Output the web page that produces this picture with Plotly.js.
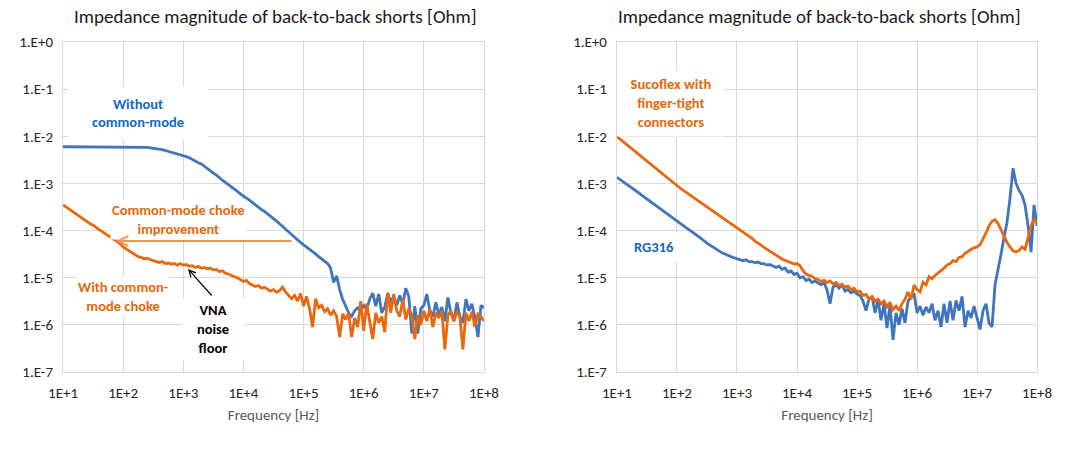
<!DOCTYPE html>
<html>
<head>
<meta charset="utf-8">
<script src="https://cdn.plot.ly/plotly-3.0.1.min.js"></script>
<style>
  html, body { margin: 0; padding: 0; background: #ffffff; }
  #chart { width: 1070px; height: 456px; }
</style>
</head>
<body>
<div id="chart"></div>
<script>
// Frequency grid [Hz] (shared by all four traces)
var freq = [
  1e1,1.122e1,1.259e1,1.413e1,1.585e1,1.778e1,1.995e1,2.239e1,2.512e1,2.818e1,3.162e1,3.548e1,3.981e1,4.467e1,5.012e1,5.623e1,6.31e1,7.079e1,7.943e1,8.913e1,
  1e2,1.122e2,1.259e2,1.413e2,1.585e2,1.778e2,1.995e2,2.239e2,2.512e2,2.818e2,3.162e2,3.548e2,3.981e2,4.467e2,5.012e2,5.623e2,6.31e2,7.079e2,7.943e2,8.913e2,
  1e3,1.122e3,1.259e3,1.413e3,1.585e3,1.778e3,1.995e3,2.239e3,2.512e3,2.818e3,3.162e3,3.548e3,3.981e3,4.467e3,5.012e3,5.623e3,6.31e3,7.079e3,7.943e3,8.913e3,
  1e4,1.122e4,1.259e4,1.413e4,1.585e4,1.778e4,1.995e4,2.239e4,2.512e4,2.818e4,3.162e4,3.548e4,3.981e4,4.467e4,5.012e4,5.623e4,6.31e4,7.079e4,7.943e4,8.913e4,
  1e5,1.122e5,1.259e5,1.413e5,1.585e5,1.778e5,1.995e5,2.239e5,2.512e5,2.818e5,3.162e5,3.548e5,3.981e5,4.467e5,5.012e5,5.623e5,6.31e5,7.079e5,7.943e5,8.913e5,
  1e6,1.122e6,1.259e6,1.413e6,1.585e6,1.778e6,1.995e6,2.239e6,2.512e6,2.818e6,3.162e6,3.548e6,3.981e6,4.467e6,5.012e6,5.623e6,6.31e6,7.079e6,7.943e6,8.913e6,
  1e7,1.122e7,1.259e7,1.413e7,1.585e7,1.778e7,1.995e7,2.239e7,2.512e7,2.818e7,3.162e7,3.548e7,3.981e7,4.467e7,5.012e7,5.623e7,6.31e7,7.079e7,7.943e7,8.913e7,
  1e8
];

// Left chart: without common-mode choke [Ohm]
var leftWithout = [
  6.0e-3,6.0e-3,6.0e-3,6.0e-3,6.0e-3,6.0e-3,6.0e-3,6.0e-3,6.0e-3,6.0e-3,
  6.0e-3,6.0e-3,6.0e-3,6.0e-3,6.0e-3,6.0e-3,6.0e-3,6.0e-3,6.0e-3,6.0e-3,
  6.0e-3,6.0e-3,6.0e-3,6.0e-3,6.0e-3,5.95e-3,5.9e-3,5.85e-3,5.8e-3,5.7e-3,
  5.6e-3,5.5e-3,5.35e-3,5.2e-3,5.0e-3,4.8e-3,4.6e-3,4.45e-3,4.3e-3,4.15e-3,
  4.0e-3,3.7e-3,3.5e-3,3.2e-3,2.95e-3,2.75e-3,2.6e-3,2.3e-3,2.05e-3,1.85e-3,
  1.65e-3,1.5e-3,1.3e-3,1.17e-3,1.05e-3,9.5e-4,8.5e-4,7.6e-4,6.8e-4,6.0e-4,
  5.5e-4,4.9e-4,4.4e-4,3.9e-4,3.5e-4,3.2e-4,2.8e-4,2.55e-4,2.3e-4,2.05e-4,
  1.8e-4,1.6e-4,1.4e-4,1.23e-4,1.07e-4,9.3e-5,8.1e-5,7.1e-5,6.2e-5,5.6e-5,
  5.0e-5,4.5e-5,4.0e-5,3.6e-5,3.2e-5,2.8e-5,2.5e-5,2.2e-5,2.0e-5,1.6e-5,
  7.9e-6,1.1e-5,5.6e-6,3.5e-6,2.5e-6,1.8e-6,1.5e-6,2.0e-6,2.3e-6,2.0e-6,
  2.6e-6,2.2e-6,3.5e-6,4.7e-6,2.5e-6,4.5e-6,1.8e-6,2.4e-6,4.7e-6,3.0e-6,
  4.0e-6,2.6e-6,4.2e-6,2.8e-6,6.0e-6,4.0e-6,6.5e-7,2.5e-6,6.5e-7,2.2e-6,
  2.6e-6,4.5e-6,2.0e-6,1.5e-6,3.0e-6,1.6e-6,2.4e-6,1.2e-6,3.8e-6,1.8e-6,
  1.2e-6,3.0e-6,1.5e-6,1.1e-6,3.5e-6,2.0e-6,2.8e-6,1.4e-6,5.5e-7,2.6e-6,
  2.3e-6
];

// Left chart: with common-mode choke [Ohm]
var leftWith = [
  3.5e-4,3.15e-4,2.85e-4,2.55e-4,2.3e-4,2.05e-4,1.85e-4,1.7e-4,1.55e-4,1.4e-4,
  1.3e-4,1.15e-4,1.05e-4,9.5e-5,8.6e-5,7.7e-5,6.9e-5,6.3e-5,5.8e-5,5.3e-5,
  4.5e-5,4.1e-5,3.6e-5,3.3e-5,3.0e-5,2.8e-5,2.7e-5,2.5e-5,2.6e-5,2.4e-5,
  2.3e-5,2.2e-5,2.1e-5,2.2e-5,2.0e-5,2.05e-5,1.95e-5,2.0e-5,1.85e-5,2.0e-5,
  1.85e-5,1.9e-5,1.75e-5,1.8e-5,1.65e-5,1.75e-5,1.6e-5,1.65e-5,1.55e-5,1.6e-5,
  1.45e-5,1.5e-5,1.35e-5,1.4e-5,1.25e-5,1.2e-5,1.1e-5,1.05e-5,1.0e-5,9.0e-6,
  8.3e-6,8.8e-6,7.5e-6,7.0e-6,6.5e-6,6.8e-6,6.0e-6,6.3e-6,5.8e-6,5.2e-6,
  5.6e-6,4.9e-6,5.3e-6,6.3e-6,5.0e-6,4.3e-6,3.6e-6,4.2e-6,3.2e-6,4.6e-6,
  2.5e-6,4.0e-6,2.2e-6,9.0e-7,3.6e-6,2.3e-6,2.6e-6,1.9e-6,2.2e-6,1.6e-6,
  2.0e-6,1.5e-6,5.5e-7,1.7e-6,1.3e-6,1.8e-6,5.5e-7,1.4e-6,9.0e-7,3.2e-6,
  7.5e-7,2.8e-6,1.3e-6,5.0e-7,1.8e-6,1.1e-6,1.5e-6,7.0e-7,4.8e-6,1.8e-6,
  4.5e-6,2.0e-6,1.5e-6,3.5e-6,1.3e-6,2.2e-6,1.6e-6,5.0e-7,1.6e-6,1.0e-6,
  2.0e-6,1.2e-6,2.2e-6,9.0e-7,1.8e-6,1.4e-6,2.0e-6,3.0e-7,1.6e-6,2.0e-6,
  1.2e-6,1.9e-6,1.5e-6,3.0e-7,1.8e-6,1.2e-6,1.9e-6,9.0e-7,1.7e-6,1.5e-6,
  1.2e-6
];

// Right chart: Sucoflex with finger-tight connectors [Ohm]
var rightSucoflex = [
  9.8e-3,8.7e-3,7.6e-3,6.8e-3,6.0e-3,5.4e-3,4.8e-3,4.2e-3,3.7e-3,3.3e-3,
  2.95e-3,2.6e-3,2.3e-3,2.05e-3,1.8e-3,1.6e-3,1.4e-3,1.25e-3,1.12e-3,1.0e-3,
  8.9e-4,8.0e-4,7.2e-4,6.5e-4,5.9e-4,5.3e-4,4.8e-4,4.3e-4,3.9e-4,3.5e-4,
  3.15e-4,2.8e-4,2.55e-4,2.3e-4,2.1e-4,1.87e-4,1.7e-4,1.52e-4,1.38e-4,1.23e-4,
  1.12e-4,1.02e-4,9.1e-5,8.3e-5,7.4e-5,6.8e-5,6.0e-5,5.5e-5,4.9e-5,4.4e-5,
  4.0e-5,3.55e-5,3.2e-5,2.9e-5,2.7e-5,2.5e-5,2.35e-5,2.2e-5,2.1e-5,1.95e-5,
  2.0e-5,1.8e-5,1.4e-5,1.2e-5,1.12e-5,1.07e-5,9.5e-6,9.3e-6,8.3e-6,8.9e-6,
  7.9e-6,8.5e-6,7.4e-6,7.9e-6,6.8e-6,7.2e-6,6.3e-6,6.6e-6,5.6e-6,6.0e-6,
  5.0e-6,5.2e-6,4.2e-6,4.4e-6,3.5e-6,4.0e-6,3.2e-6,3.5e-6,2.8e-6,3.2e-6,
  2.4e-6,3.0e-6,2.1e-6,2.5e-6,2.0e-6,2.8e-6,3.5e-6,5.0e-6,3.5e-6,7.0e-6,
  5.6e-6,5.0e-6,8.0e-6,7.0e-6,1.05e-5,9.5e-6,1.12e-5,1.25e-5,1.38e-5,1.6e-5,
  1.85e-5,2.0e-5,2.3e-5,2.2e-5,2.7e-5,2.8e-5,3.3e-5,3.7e-5,4.0e-5,4.3e-5,
  4.5e-5,5.0e-5,6.6e-5,8.9e-5,1.26e-4,1.58e-4,1.7e-4,1.41e-4,1.05e-4,7.6e-5,
  5.6e-5,4.5e-5,3.7e-5,3.5e-5,3.8e-5,4.5e-5,4.0e-5,7.1e-5,1.26e-4,1.7e-4,
  1.5e-4
];

// Right chart: RG316 [Ohm]
var rightRG316 = [
  1.35e-3,1.2e-3,1.1e-3,9.8e-4,8.9e-4,7.9e-4,7.1e-4,6.5e-4,5.8e-4,5.2e-4,
  4.7e-4,4.2e-4,3.8e-4,3.4e-4,3.1e-4,2.75e-4,2.45e-4,2.25e-4,2.0e-4,1.8e-4,
  1.6e-4,1.42e-4,1.29e-4,1.15e-4,1.05e-4,9.3e-5,8.3e-5,7.6e-5,6.8e-5,6.0e-5,
  5.4e-5,4.9e-5,4.4e-5,4.0e-5,3.7e-5,3.4e-5,3.15e-5,2.95e-5,2.8e-5,2.65e-5,
  2.5e-5,2.4e-5,2.3e-5,2.4e-5,2.2e-5,2.2e-5,2.1e-5,2.15e-5,2.0e-5,2.0e-5,
  1.85e-5,1.9e-5,1.75e-5,1.65e-5,1.75e-5,1.5e-5,1.6e-5,1.32e-5,1.4e-5,1.17e-5,
  1.25e-5,1.0e-5,1.05e-5,8.7e-6,9.3e-6,7.9e-6,8.5e-6,7.6e-6,7.1e-6,7.9e-6,
  5.6e-6,2.8e-6,6.3e-6,7.1e-6,6.0e-6,7.1e-6,5.2e-6,5.6e-6,4.8e-6,5.2e-6,
  4.5e-6,4.2e-6,3.2e-6,2.0e-6,3.5e-6,4.0e-6,1.8e-6,3.5e-6,1.25e-6,2.8e-6,
  8.5e-7,2.6e-6,4.8e-7,1.8e-6,1.0e-6,2.2e-6,1.1e-6,3.2e-6,4.0e-6,4.7e-6,
  1.8e-6,2.5e-6,1.6e-6,2.4e-6,1.8e-6,2.8e-6,1.25e-6,2.0e-6,9.0e-7,2.8e-6,
  1.1e-6,3.2e-6,1.25e-6,3.3e-6,2.0e-6,4.0e-6,9.0e-7,2.0e-6,1.4e-6,2.5e-6,
  1.4e-6,8.0e-7,2.0e-6,2.8e-6,1.1e-6,9.0e-7,7.1e-6,1.4e-5,3.2e-5,7.1e-5,
  1.5e-4,5.0e-4,2.1e-3,1.0e-3,7.1e-4,5.6e-4,3.5e-4,1.26e-4,3.5e-5,3.5e-4,
  1.26e-4
];

// Axis tick labels
var yTickVals = [1, 1e-1, 1e-2, 1e-3, 1e-4, 1e-5, 1e-6, 1e-7];
var yTickText = ['1.E+0','1.E-1','1.E-2','1.E-3','1.E-4','1.E-5','1.E-6','1.E-7'];
var xTickVals = [1e1, 1e2, 1e3, 1e4, 1e5, 1e6, 1e7, 1e8];
var xTickText = ['1E+1','1E+2','1E+3','1E+4','1E+5','1E+6','1E+7','1E+8'];

var BLUE = '#3e75bd';
var ORANGE = '#e8680f';
var BLUE_TXT = '#1469be';
var ORANGE_TXT = '#e4680c';
var FONT = 'Carlito, Lato, "Open Sans", sans-serif';

function lineTrace(x, y, color, xa, ya) {
  return { x: x, y: y, type: 'scatter', mode: 'lines', xaxis: xa, yaxis: ya,
           line: { color: color, width: 2.8 }, hoverinfo: 'skip' };
}

var data = [
  lineTrace(freq, leftWithout, BLUE, 'x', 'y'),
  lineTrace(freq, leftWith, ORANGE, 'x', 'y'),
  lineTrace(freq, rightRG316, BLUE, 'x2', 'y2'),
  lineTrace(freq, rightSucoflex, ORANGE, 'x2', 'y2')
];

function xAxis(domain, anchor) {
  return {
    domain: domain, anchor: anchor, type: 'log', range: [1, 8],
    tickmode: 'array', tickvals: xTickVals, ticktext: xTickText,
    showgrid: true, gridcolor: '#d9d9d9', gridwidth: 1,
    showline: true, linecolor: '#d9d9d9', linewidth: 1, mirror: true,
    zeroline: false, ticks: '', ticklabelstandoff: 7,
    tickfont: { family: FONT, size: 15, color: '#262626' },
    title: { text: 'Frequency [Hz]', font: { family: FONT, size: 15, color: '#595959' }, standoff: 8 },
    fixedrange: true
  };
}
function yAxis(anchor) {
  return {
    domain: [0.1842, 0.9079], anchor: anchor, type: 'log', range: [-7, 0],
    tickmode: 'array', tickvals: yTickVals, ticktext: yTickText,
    showgrid: true, gridcolor: '#d9d9d9', gridwidth: 1,
    showline: true, linecolor: '#d9d9d9', linewidth: 1, mirror: true,
    zeroline: false, ticks: '', ticklabelstandoff: 6,
    tickfont: { family: FONT, size: 15, color: '#262626' },
    fixedrange: true
  };
}

function px(x) { return x / 1070; }
function py(y) { return 1 - y / 456; }

function label(text, x, y, color, w, h) {
  var a = { text: text, xref: 'paper', yref: 'paper', x: px(x), y: py(y),
            xanchor: 'center', yanchor: 'middle', showarrow: false,
            font: { family: FONT, size: 14.5, color: color, weight: 'bold' },
            bgcolor: '#ffffff', align: 'center' };
  if (w) a.width = w;
  if (h) a.height = h;
  return a;
}

var annotations = [
  { text: 'Impedance magnitude of back-to-back shorts [Ohm]', xref: 'paper', yref: 'paper',
    x: px(275), y: py(16), xanchor: 'center', yanchor: 'middle', showarrow: false,
    font: { family: FONT, size: 19, color: '#1a1a1a' } },
  { text: 'Impedance magnitude of back-to-back shorts [Ohm]', xref: 'paper', yref: 'paper',
    x: px(819), y: py(16), xanchor: 'center', yanchor: 'middle', showarrow: false,
    font: { family: FONT, size: 19, color: '#1a1a1a' } },

  label('Without<br>common-mode', 138, 113, BLUE_TXT, 136, 50),
  label('Common-mode choke<br>improvement', 178, 219, ORANGE_TXT, null, null),
  label('With common-<br>mode choke', 123, 296, ORANGE_TXT, null, null),
  label('VNA<br>noise<br>floor', 213, 329, '#000000', 60, 58),

  label('Sucoflex with<br>finger-tight<br>connectors', 671, 103, ORANGE_TXT, 104, 64),
  label('RG316', 654, 247, BLUE_TXT, 58, 26),

  // horizontal "improvement" arrow
  { text: '', xref: 'paper', yref: 'paper', x: px(116), y: py(241),
    showarrow: true, ax: 177, ay: 0, arrowhead: 5, arrowsize: 1, arrowwidth: 2,
    arrowcolor: '#f0955a', standoff: 0, startstandoff: 0 },
  // VNA noise floor arrow
  { text: '', xref: 'paper', yref: 'paper', x: px(188), y: py(269),
    showarrow: true, ax: 25, ay: 28, arrowhead: 5, arrowsize: 1.1, arrowwidth: 1.2,
    arrowcolor: '#000000', standoff: 0, startstandoff: 0 }
];

var layout = {
  width: 1070, height: 456,
  margin: { l: 0, r: 0, t: 0, b: 0 },
  paper_bgcolor: '#ffffff', plot_bgcolor: '#ffffff',
  showlegend: false,
  font: { family: FONT },
  xaxis: xAxis([0.0589, 0.4523], 'y'),
  yaxis: yAxis('x'),
  xaxis2: xAxis([0.5766, 0.9692], 'y2'),
  yaxis2: yAxis('x2'),
  annotations: annotations
};

Plotly.newPlot('chart', data, layout, { staticPlot: true, displayModeBar: false });
</script>
</body>
</html>
